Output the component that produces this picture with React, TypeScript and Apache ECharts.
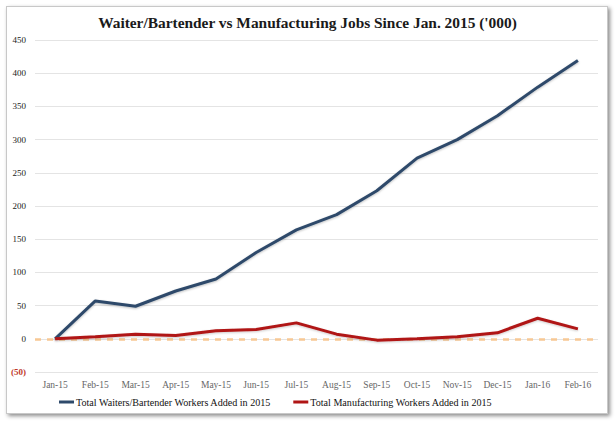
import React, { useEffect, useRef } from "react";
import * as echarts from "echarts";

const categories = ["Jan-15", "Feb-15", "Mar-15", "Apr-15", "May-15", "Jun-15", "Jul-15", "Aug-15", "Sep-15", "Oct-15", "Nov-15", "Dec-15", "Jan-16", "Feb-16"];
const waitersBartenders = [0, 57, 49, 72, 90, 130, 164, 187, 223, 272, 300, 336, 379, 419];
const manufacturing = [0, 3, 7, 5, 12, 14, 24, 7, -2, 0, 3, 9, 31, 15];
const yTicks = [-50, 0, 50, 100, 150, 200, 250, 300, 350, 400, 450];

const SERIF = "Liberation Serif";

export default function App() {
  const ref = useRef<HTMLDivElement>(null);
  useEffect(() => {
    if (!ref.current) return;
    const chart = echarts.init(ref.current, null, { renderer: "svg" });
    chart.setOption({
      animation: false,
      backgroundColor: "transparent",
      textStyle: { fontFamily: SERIF },
      title: {
        text: "Waiter/Bartender vs Manufacturing Jobs Since Jan. 2015 ('000)",
        left: "center",
        top: 10,
        textStyle: { fontFamily: SERIF, fontSize: 15.4, fontWeight: "bold", color: "#1a1a1a" },
      },
      grid: { left: 35, right: 17, top: 40, bottom: 51, containLabel: false },
      xAxis: {
        type: "category",
        data: categories,
        boundaryGap: true,
        axisLine: { show: false },
        axisTick: { show: false },
        axisLabel: { fontFamily: SERIF, fontSize: 9.5, color: "#666", margin: 8, interval: 0 },
      },
      yAxis: {
        type: "value",
        min: yTicks[0],
        max: yTicks[yTicks.length - 1],
        interval: 50,
        axisLine: { show: false },
        axisTick: { show: false },
        splitLine: { lineStyle: { color: "#e4e4e4", width: 1 } },
        axisLabel: {
          fontFamily: SERIF,
          fontSize: 9,
          margin: 9,
          formatter: (v: number) => (v < 0 ? `{neg|(${Math.abs(v)})}` : `${v}`),
          color: "#222",
          rich: { neg: { color: "#c0392b", fontFamily: SERIF, fontSize: 9, fontWeight: "bold" } },
        },
      },
      legend: {
        bottom: 11,
        left: 54,
        itemGap: 22,
        itemWidth: 15,
        itemHeight: 3,
        icon: "rect",
        textStyle: { fontFamily: SERIF, fontSize: 10.1, color: "#111", padding: [0, 0, 0, -3] },
        data: ["Total Waiters/Bartender Workers Added in 2015", "Total Manufacturing Workers Added in 2015"],
      },
      series: [
        {
          name: "Total Waiters/Bartender Workers Added in 2015",
          type: "line",
          data: waitersBartenders,
          symbol: "none",
          color: "#2e4a6b",
          lineStyle: { width: 3, color: "#2e4a6b", shadowColor: "rgba(0,0,0,0.25)", shadowBlur: 2, shadowOffsetY: 1 },
          z: 3,
        },
        {
          name: "Total Manufacturing Workers Added in 2015",
          type: "line",
          data: manufacturing,
          symbol: "none",
          color: "#b01515",
          lineStyle: { width: 3, color: "#b01515", shadowColor: "rgba(0,0,0,0.2)", shadowBlur: 2, shadowOffsetY: 1 },
          z: 3,
          markLine: {
            silent: true,
            symbol: "none",
            label: { show: false },
            lineStyle: { type: [6, 6], color: "#f7c894", width: 2.5 },
            data: [{ yAxis: 0 }],
            z: 1,
          },
        },
      ],
    });
    return () => chart.dispose();
  }, []);
  return (
    <div style={{ position: "absolute", left: 0, top: 0, width: 615, height: 423, background: "#fff" }}>
      <div
        style={{
          position: "absolute",
          left: 6,
          top: 6,
          width: 600,
          height: 406,
          border: "1px solid #c8c8c8",
          boxShadow: "2px 2px 4px rgba(0,0,0,0.45)",
          background: "#fff",
        }}
      />
      <div ref={ref} style={{ position: "absolute", left: 0, top: 0, width: 615, height: 423 }} />
    </div>
  );
}
